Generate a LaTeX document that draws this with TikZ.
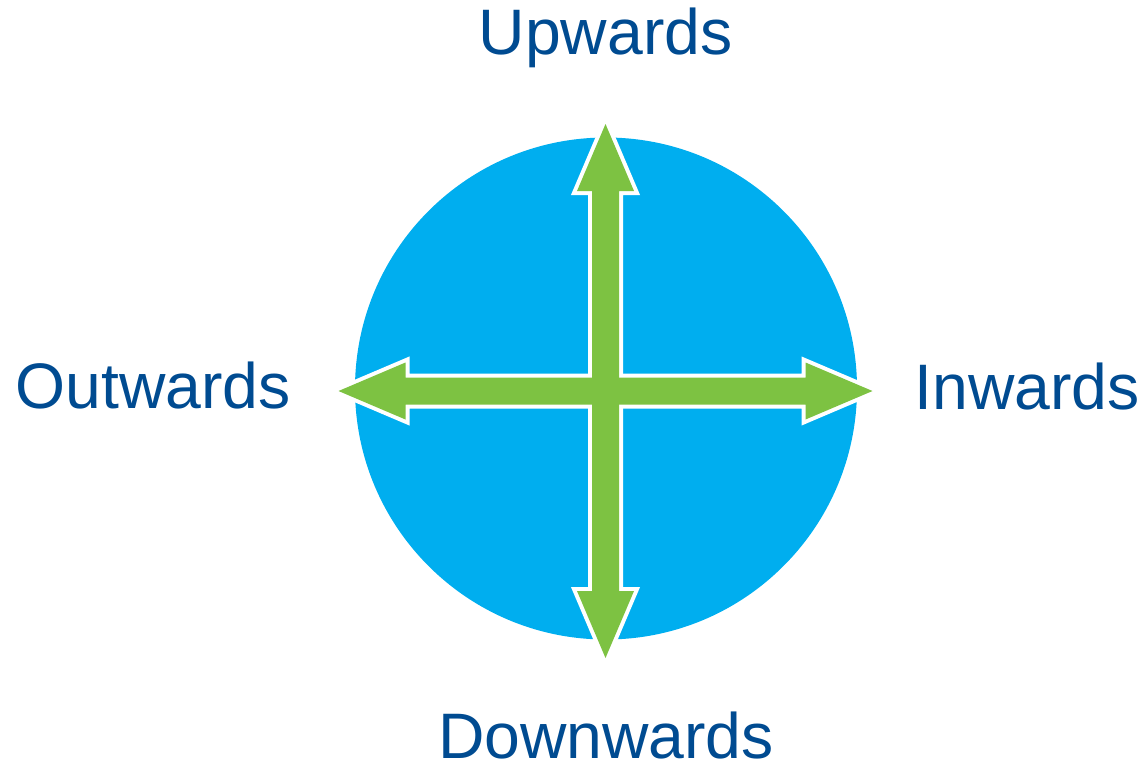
\documentclass[tikz,border=0pt]{standalone}
\usepackage{fontspec}
\setmainfont{Liberation Sans}
\usepackage{xcolor}
\usepackage{tikz}
\definecolor{skyblue}{HTML}{00AEEF}
\definecolor{leafgreen}{HTML}{7DC242}
\definecolor{navyblue}{HTML}{004B91}

\begin{document}
\begin{tikzpicture}[x=0.02cm, y=-0.02cm,
dirtext/.style={text=navyblue, font=\fontsize{36.6}{40}\selectfont, anchor=base, inner sep=0pt},
arrowedge/.style={draw=white, line width=0.16cm, line join=miter},
arrowfill/.style={fill=leafgreen}]
\useasboundingbox (0,0) rectangle (1145,768);
\fill[skyblue] (606,388.5) circle (251);
\coordinate (mid) at (605.5,391);
% white edge of both arms first, green on top
\foreach \ang in {0,90}
  \draw[arrowedge, shift={(mid)}, rotate=\ang] (267,0) -- (200,28.5) -- (200,13.5) -- (-200,13.5) -- (-200,28.5) -- (-267,0) -- (-200,-28.5) -- (-200,-13.5) -- (200,-13.5) -- (200,-28.5) -- cycle;
\foreach \ang in {0,90}
  \fill[arrowfill, shift={(mid)}, rotate=\ang] (267,0) -- (200,28.5) -- (200,13.5) -- (-200,13.5) -- (-200,28.5) -- (-267,0) -- (-200,-28.5) -- (-200,-13.5) -- (200,-13.5) -- (200,-28.5) -- cycle;
\node[dirtext] (up) at (605.5,54) {Upwards};
\node[dirtext] (down) at (606,758) {Downwards};
\node[dirtext] (out) at (153,408) {Outwards};
\node[dirtext] (in) at (1027,409) {Inwards};
\end{tikzpicture}
\end{document}
